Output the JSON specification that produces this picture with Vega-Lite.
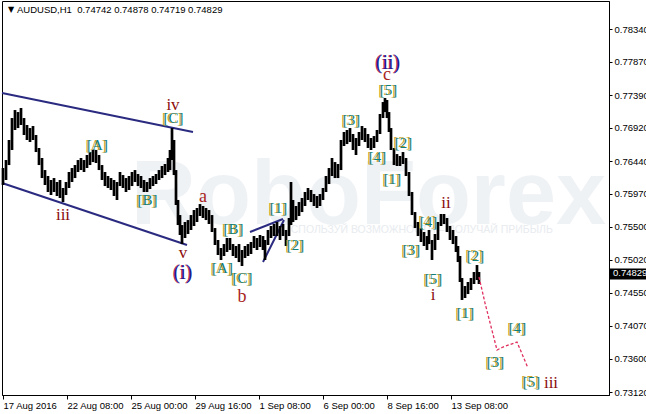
{
"$schema": "https://vega.github.io/schema/vega-lite/v6.json",
"width": 607, "height": 394,
"autosize": {"type": "none"},
"padding": {"left": 2, "top": 1, "right": 37, "bottom": 19},
"background": "white",
"config": {"view": {"stroke": "black", "strokeWidth": 1}, "font": "Liberation Sans"},
"datasets": {
"bars": [
{"t":0,"p":0.76341,"p2":0.76097},{"t":3,"p":0.76456,"p2":0.76169},{"t":6,"p":0.76744,"p2":0.76384},{"t":9,"p":0.77060,"p2":0.76600},{"t":12,"p":0.77175,"p2":0.76888},{"t":15,"p":0.77146,"p2":0.76916},{"t":18,"p":0.77204,"p2":0.76960},{"t":21,"p":0.77060,"p2":0.76816},{"t":24,"p":0.76960,"p2":0.76744},{"t":27,"p":0.76916,"p2":0.76715},{"t":30,"p":0.76945,"p2":0.76744},{"t":33,"p":0.76816,"p2":0.76571},{"t":36,"p":0.76629,"p2":0.76384},{"t":39,"p":0.76485,"p2":0.76197},{"t":42,"p":0.76312,"p2":0.76097},{"t":45,"p":0.76226,"p2":0.75996},{"t":48,"p":0.76169,"p2":0.75953},{"t":51,"p":0.76197,"p2":0.75996},{"t":54,"p":0.76140,"p2":0.75939},{"t":57,"p":0.76169,"p2":0.75910},{"t":60,"p":0.76054,"p2":0.75852},{"t":63,"p":0.76140,"p2":0.75953},{"t":66,"p":0.76284,"p2":0.76054},{"t":69,"p":0.76341,"p2":0.76140},{"t":72,"p":0.76384,"p2":0.76197},{"t":75,"p":0.76456,"p2":0.76284},{"t":78,"p":0.76485,"p2":0.76312},{"t":81,"p":0.76456,"p2":0.76284},{"t":84,"p":0.76528,"p2":0.76341},{"t":87,"p":0.76571,"p2":0.76384},{"t":90,"p":0.76600,"p2":0.76427},{"t":93,"p":0.76600,"p2":0.76413},{"t":96,"p":0.76528,"p2":0.76312},{"t":99,"p":0.76384,"p2":0.76169},{"t":102,"p":0.76284,"p2":0.76082},{"t":105,"p":0.76226,"p2":0.76054},{"t":108,"p":0.76197,"p2":0.76025},{"t":111,"p":0.76169,"p2":0.75939},{"t":114,"p":0.76140,"p2":0.75881},{"t":117,"p":0.76284,"p2":0.76082},{"t":120,"p":0.76240,"p2":0.76054},{"t":123,"p":0.76197,"p2":0.75996},{"t":126,"p":0.76226,"p2":0.76025},{"t":129,"p":0.76284,"p2":0.76082},{"t":132,"p":0.76312,"p2":0.76140},{"t":135,"p":0.76255,"p2":0.76082},{"t":138,"p":0.76226,"p2":0.76054},{"t":141,"p":0.76169,"p2":0.75996},{"t":144,"p":0.76140,"p2":0.75996},{"t":147,"p":0.76197,"p2":0.76039},{"t":150,"p":0.76226,"p2":0.76082},{"t":153,"p":0.76255,"p2":0.76111},{"t":156,"p":0.76312,"p2":0.76169},{"t":159,"p":0.76370,"p2":0.76197},{"t":162,"p":0.76399,"p2":0.76240},{"t":165,"p":0.76485,"p2":0.76284},{"t":167,"p":0.76600,"p2":0.76312},{"t":169,"p":0.76916,"p2":0.76456},{"t":171,"p":0.76744,"p2":0.76240},{"t":173,"p":0.76312,"p2":0.75809},{"t":175,"p":0.75881,"p2":0.75521},{"t":177,"p":0.75665,"p2":0.75378},{"t":179,"p":0.75521,"p2":0.75248},{"t":182,"p":0.75565,"p2":0.75335},{"t":185,"p":0.75593,"p2":0.75392},{"t":188,"p":0.75665,"p2":0.75450},{"t":191,"p":0.75737,"p2":0.75507},{"t":194,"p":0.75766,"p2":0.75565},{"t":197,"p":0.75823,"p2":0.75651},{"t":200,"p":0.75795,"p2":0.75622},{"t":203,"p":0.75766,"p2":0.75593},{"t":206,"p":0.75737,"p2":0.75536},{"t":209,"p":0.75665,"p2":0.75421},{"t":212,"p":0.75478,"p2":0.75234},{"t":215,"p":0.75306,"p2":0.75090},{"t":218,"p":0.75191,"p2":0.75018},{"t":221,"p":0.75248,"p2":0.75076},{"t":224,"p":0.75335,"p2":0.75133},{"t":227,"p":0.75335,"p2":0.75162},{"t":230,"p":0.75248,"p2":0.75076},{"t":233,"p":0.75220,"p2":0.75047},{"t":236,"p":0.75248,"p2":0.74989},{"t":239,"p":0.75162,"p2":0.74932},{"t":242,"p":0.75220,"p2":0.75047},{"t":245,"p":0.75248,"p2":0.75076},{"t":248,"p":0.75277,"p2":0.75105},{"t":251,"p":0.75363,"p2":0.75191},{"t":254,"p":0.75335,"p2":0.75162},{"t":257,"p":0.75378,"p2":0.75205},{"t":260,"p":0.75363,"p2":0.75162},{"t":262,"p":0.75306,"p2":0.75018},{"t":265,"p":0.75450,"p2":0.75234},{"t":268,"p":0.75507,"p2":0.75335},{"t":271,"p":0.75536,"p2":0.75363},{"t":274,"p":0.75565,"p2":0.75363},{"t":277,"p":0.75507,"p2":0.75306},{"t":280,"p":0.75536,"p2":0.75363},{"t":283,"p":0.75450,"p2":0.75220},{"t":286,"p":0.75622,"p2":0.75363},{"t":288,"p":0.76140,"p2":0.75521},{"t":290,"p":0.75881,"p2":0.75565},{"t":293,"p":0.75795,"p2":0.75593},{"t":296,"p":0.75852,"p2":0.75651},{"t":299,"p":0.75910,"p2":0.75708},{"t":302,"p":0.75996,"p2":0.75795},{"t":305,"p":0.76054,"p2":0.75881},{"t":308,"p":0.76025,"p2":0.75852},{"t":311,"p":0.75967,"p2":0.75795},{"t":314,"p":0.75939,"p2":0.75766},{"t":317,"p":0.75967,"p2":0.75795},{"t":320,"p":0.76054,"p2":0.75881},{"t":323,"p":0.76226,"p2":0.75996},{"t":326,"p":0.76341,"p2":0.76111},{"t":329,"p":0.76485,"p2":0.76226},{"t":332,"p":0.76427,"p2":0.76197},{"t":335,"p":0.76399,"p2":0.76197},{"t":338,"p":0.76744,"p2":0.76312},{"t":341,"p":0.76859,"p2":0.76658},{"t":344,"p":0.76888,"p2":0.76686},{"t":347,"p":0.76916,"p2":0.76715},{"t":350,"p":0.76830,"p2":0.76600},{"t":353,"p":0.76773,"p2":0.76528},{"t":356,"p":0.76859,"p2":0.76658},{"t":359,"p":0.76945,"p2":0.76744},{"t":362,"p":0.76916,"p2":0.76715},{"t":365,"p":0.76830,"p2":0.76629},{"t":368,"p":0.76773,"p2":0.76600},{"t":371,"p":0.76801,"p2":0.76629},{"t":374,"p":0.76888,"p2":0.76715},{"t":377,"p":0.77118,"p2":0.76830},{"t":380,"p":0.77290,"p2":0.77060},{"t":382,"p":0.77348,"p2":0.77146},{"t":384,"p":0.77319,"p2":0.77060},{"t":386,"p":0.77146,"p2":0.76859},{"t":388,"p":0.76916,"p2":0.76600},{"t":391,"p":0.76629,"p2":0.76384},{"t":394,"p":0.76542,"p2":0.76370},{"t":397,"p":0.76514,"p2":0.76370},{"t":400,"p":0.76571,"p2":0.76399},{"t":403,"p":0.76485,"p2":0.76226},{"t":406,"p":0.76284,"p2":0.75939},{"t":409,"p":0.75996,"p2":0.75665},{"t":412,"p":0.75708,"p2":0.75478},{"t":415,"p":0.75565,"p2":0.75363},{"t":418,"p":0.75478,"p2":0.75277},{"t":421,"p":0.75421,"p2":0.75220},{"t":424,"p":0.75363,"p2":0.75162},{"t":426,"p":0.75450,"p2":0.75248},{"t":429,"p":0.75306,"p2":0.75018},{"t":432,"p":0.75392,"p2":0.75162},{"t":435,"p":0.75565,"p2":0.75306},{"t":438,"p":0.75680,"p2":0.75507},{"t":441,"p":0.75680,"p2":0.75536},{"t":444,"p":0.75622,"p2":0.75421},{"t":447,"p":0.75507,"p2":0.75306},{"t":450,"p":0.75450,"p2":0.75248},{"t":453,"p":0.75363,"p2":0.75133},{"t":455,"p":0.75220,"p2":0.74989},{"t":457,"p":0.75076,"p2":0.74702},{"t":459,"p":0.74759,"p2":0.74443},{"t":462,"p":0.74644,"p2":0.74472},{"t":465,"p":0.74702,"p2":0.74529},{"t":468,"p":0.74759,"p2":0.74587},{"t":471,"p":0.74846,"p2":0.74673},{"t":474,"p":0.74946,"p2":0.74731},{"t":476,"p":0.74846,"p2":0.74673}
],
"ch": [
{"g":1,"t":-1,"p":0.77420},{"g":1,"t":190,"p":0.76859},
{"g":2,"t":-1,"p":0.76125},{"g":2,"t":184,"p":0.75234},
{"g":3,"t":247,"p":0.75421},{"g":3,"t":280,"p":0.75608},
{"g":4,"t":260,"p":0.74989},{"g":4,"t":281,"p":0.75593}
],
"fc": [
{"t":476,"p":0.74774},{"t":482,"p":0.74400},{"t":494,"p":0.73724},{"t":500,"p":0.73767},{"t":514,"p":0.73839},{"t":525,"p":0.73465}
],
"gl": [
{"t":94,"p":0.76672,"s":"[A]"},{"t":144,"p":0.75881,"s":"[B]"},{"t":170,"p":0.77060,"s":"[C]"},{"t":219,"p":0.74903,"s":"[A]"},{"t":230,"p":0.75464,"s":"[B]"},{"t":239,"p":0.74759,"s":"[C]"},{"t":275,"p":0.75766,"s":"[1]"},{"t":292,"p":0.75234,"s":"[2]"},{"t":348,"p":0.77031,"s":"[3]"},{"t":374,"p":0.76499,"s":"[4]"},{"t":385,"p":0.77463,"s":"[5]"},{"t":400,"p":0.76701,"s":"[2]"},{"t":389,"p":0.76183,"s":"[1]"},{"t":425,"p":0.75565,"s":"[4]"},{"t":408,"p":0.75162,"s":"[3]"},{"t":430,"p":0.74745,"s":"[5]"},{"t":472,"p":0.75076,"s":"[2]"},{"t":462,"p":0.74256,"s":"[1]"},{"t":514,"p":0.74040,"s":"[4]"},{"t":492,"p":0.73551,"s":"[3]"},{"t":528,"p":0.73264,"s":"[5]"}
],
"rl": [
{"t":170,"p":0.77247,"s":"iv"},{"t":60,"p":0.75665,"s":"iii"},{"t":180,"p":0.75119,"s":"v"},{"t":443,"p":0.75838,"s":"ii"},{"t":430,"p":0.74515,"s":"i"},{"t":548,"p":0.73250,"s":"iii"}
],
"al": [
{"t":200,"p":0.75924,"s":"a"},{"t":239,"p":0.74486,"s":"b"},{"t":384,"p":0.77679,"s":"c"}
],
"cl": [
{"t":180,"p":0.74831,"s":"(i)"},{"t":385,"p":0.77851,"s":"(ii)"}
],
"wm": [
{"t":128,"p":0.75536,"s":"RoboForex"}
],
"tg": [
{"t":415,"p":0.75450,"s":"ИСПОЛЬЗУЙ ВОЗМОЖНОСТИ – ПОЛУЧАЙ ПРИБЫЛЬ"}
],
"hd": [
{"t":14,"p":0.78613,"s":"AUDUSD,H1\u00a0 0.74742 0.74878 0.74719 0.74829"}
],
"tri": [
{"t":5,"p":0.78613,"s":"▼"}
],
"tag": [
{"t":607,"t2":646,"p":0.74896,"p2":0.74738}
],
"tagt": [
{"t":610,"p":0.74829,"s":"0.74829"}
]
},
"encoding": {
"x": {"field": "t", "type": "quantitative", "scale": {"domain": [-1, 606], "nice": false, "zero": false},
"axis": {"title": null, "values": [0, 64, 128, 192, 256, 320, 384, 448], "labelExpr": "datum.value==0?'17 Aug 2016':datum.value==64?'22 Aug 08:00':datum.value==128?'25 Aug 00:00':datum.value==192?'29 Aug 16:00':datum.value==256?'1 Sep 08:00':datum.value==320?'6 Sep 00:00':datum.value==384?'8 Sep 16:00':'13 Sep 08:00'", "labelAlign": "left", "labelBaseline": "top", "labelFont": "Liberation Sans", "labelFontSize": 9.5, "labelColor": "black", "labelPadding": 1, "labelFlush": false, "labelOverlap": false, "tickSize": 4, "tickColor": "black", "domainColor": "black", "grid": false}},
"y": {"field": "p", "type": "quantitative", "scale": {"domain": [0.73077, 0.78743], "nice": false, "zero": false},
"axis": {"title": null, "orient": "right", "values": [0.7834, 0.7787, 0.7739, 0.7692, 0.7644, 0.7597, 0.755, 0.7502, 0.7455, 0.7407, 0.736, 0.7312], "format": ".5f", "labelBaseline": "middle", "labelFont": "Liberation Sans", "labelFontSize": 9.5, "labelColor": "black", "labelPadding": 2, "labelFlush": false, "labelOverlap": false, "tickSize": 3, "tickColor": "black", "domainColor": "black", "grid": false}}
},
"layer": [
{
"data": {"name": "wm"},
"mark": {"type": "text", "align": "left", "baseline": "alphabetic", "fontSize": 90, "fontWeight": "bold", "font": "Liberation Sans", "color": "#eff2f5"},
"encoding": {"text": {"field": "s"}}
},
{
"data": {"name": "tg"},
"mark": {"type": "text", "align": "center", "baseline": "middle", "fontSize": 10.5, "font": "Liberation Sans", "color": "#e8ebef"},
"encoding": {"text": {"field": "s"}}
},
{
"data": {"name": "ch"},
"mark": {"type": "line", "color": "#2a2a80", "strokeWidth": 2},
"encoding": {"detail": {"field": "g"}}
},
{
"data": {"name": "bars"},
"mark": {"type": "rule", "color": "black", "strokeWidth": 2.7},
"encoding": {"y2": {"field": "p2"}}
},
{
"data": {"name": "fc"},
"mark": {"type": "line", "color": "#e0305e", "strokeWidth": 1.3, "strokeDash": [3, 2]}
},
{
"data": {"name": "gl"},
"mark": {"type": "text", "align": "center", "baseline": "middle", "fontSize": 15, "font": "Liberation Serif", "color": "#c9a227", "dx": -1, "dy": -0.5},
"encoding": {"text": {"field": "s"}}
},
{
"data": {"name": "gl"},
"mark": {"type": "text", "align": "center", "baseline": "middle", "fontSize": 15, "font": "Liberation Serif", "color": "#11807a", "dx": 0.5},
"encoding": {"text": {"field": "s"}}
},
{
"data": {"name": "rl"},
"mark": {"type": "text", "align": "center", "baseline": "middle", "fontSize": 17, "font": "Liberation Serif", "color": "#8b0a0a"},
"encoding": {"text": {"field": "s"}}
},
{
"data": {"name": "al"},
"mark": {"type": "text", "align": "center", "baseline": "middle", "fontSize": 18, "font": "Liberation Serif", "color": "#a8241c"},
"encoding": {"text": {"field": "s"}}
},
{
"data": {"name": "cl"},
"mark": {"type": "text", "align": "center", "baseline": "middle", "fontSize": 20, "font": "Liberation Serif", "color": "#c03048", "dx": -1},
"encoding": {"text": {"field": "s"}}
},
{
"data": {"name": "cl"},
"mark": {"type": "text", "align": "center", "baseline": "middle", "fontSize": 20, "font": "Liberation Serif", "color": "#1c1c90"},
"encoding": {"text": {"field": "s"}}
},
{
"data": {"name": "hd"},
"mark": {"type": "text", "align": "left", "baseline": "middle", "fontSize": 9.5, "font": "Liberation Sans", "color": "black"},
"encoding": {"text": {"field": "s"}}
},
{
"data": {"name": "tri"},
"mark": {"type": "text", "align": "left", "baseline": "middle", "fontSize": 8, "font": "DejaVu Sans", "color": "black"},
"encoding": {"text": {"field": "s"}}
},
{
"data": {"name": "tag"},
"mark": {"type": "rect", "color": "black", "clip": false},
"encoding": {"x2": {"field": "t2"}, "y2": {"field": "p2"}}
},
{
"data": {"name": "tagt"},
"mark": {"type": "text", "align": "left", "baseline": "middle", "fontSize": 9.5, "font": "Liberation Sans", "color": "white", "clip": false},
"encoding": {"text": {"field": "s"}}
}
]
}
